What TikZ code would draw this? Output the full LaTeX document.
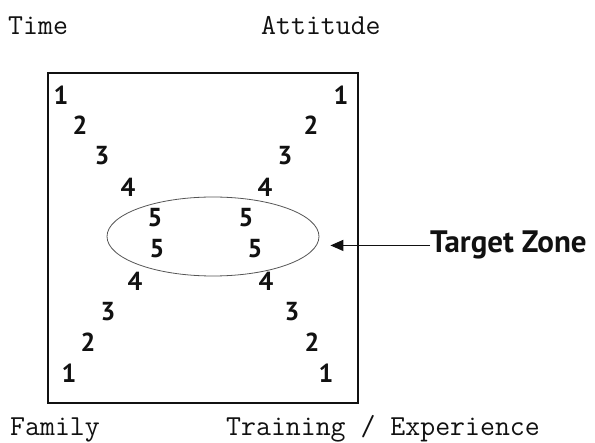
\documentclass[tikz,border=0pt]{standalone}
\usepackage{fontspec}
\usetikzlibrary{shapes.geometric, arrows.meta, positioning}
\newfontfamily\digitfont{PT Sans}[BoldFont={PT Sans Bold}]
\definecolor{ink}{HTML}{111111}
\definecolor{rim}{HTML}{555555}
\tikzset{
  axislabel/.style = {font=\ttfamily\fontsize{29}{31}\selectfont, text=ink,
                      inner sep=0pt, anchor=base west},
  level/.style     = {font=\digitfont\bfseries\fontsize{26}{27}\selectfont, text=ink,
                      inner sep=0pt},
  zone/.style      = {ellipse, draw=rim, line width=0.8pt, minimum width=212pt,
                      minimum height=79pt, inner sep=0pt},
  callout/.style   = {font=\digitfont\bfseries\fontsize{31}{32}\selectfont, text=ink,
                      inner sep=0pt, anchor=base west},
  pointer/.style   = {-{Triangle[length=13pt, width=11pt]}, line width=1.4pt, draw=ink,
                      shorten >=11pt},
}

\begin{document}
\begin{tikzpicture}[x=1pt, y=-1pt]
\useasboundingbox (0,0) rectangle (595,443);

% ---- Corner labels ----
\node[axislabel] (time)     at (8,35)   {Time};
\node[axislabel] (attitude) at (261,35) {Attitude};
\node[axislabel] (family)   at (10,436) {Family};
\node[axislabel] (training) at (226,436) {Training / Experience};

% ---- Frame ----
\draw[line width=1.4pt, draw=ink] (48,73) rectangle (358,403);

% ---- Left diagonal (top to bottom) ----
\node[level] (lt1) at (61,95)   {1};
\node[level] (lt2) at (80,125)  {2};
\node[level] (lt3) at (102,156) {3};
\node[level] (lt4) at (128,187) {4};
\node[level] (lt5) at (155,218) {5};
\node[level] (lb5) at (157,249) {5};
\node[level] (lb4) at (135,281) {4};
\node[level] (lb3) at (108,312) {3};
\node[level] (lb2) at (88,342)  {2};
\node[level] (lb1) at (69,373)  {1};

% ---- Right diagonal (top to bottom) ----
\node[level] (rt1) at (341,95)  {1};
\node[level] (rt2) at (311,125) {2};
\node[level] (rt3) at (285,156) {3};
\node[level] (rt4) at (265,187) {4};
\node[level] (rt5) at (246,218) {5};
\node[level] (rb5) at (255,249) {5};
\node[level] (rb4) at (266,281) {4};
\node[level] (rb3) at (292,312) {3};
\node[level] (rb2) at (312,342) {2};
\node[level] (rb1) at (326,373) {1};

% ---- Target zone ----
\node[zone] (target) at (213,236.5) {};
\node[callout] (tzlabel) at (430,253) {Target Zone};
\draw[pointer] (tzlabel.west) -- (tzlabel.west -| target.east);

\end{tikzpicture}
\end{document}
